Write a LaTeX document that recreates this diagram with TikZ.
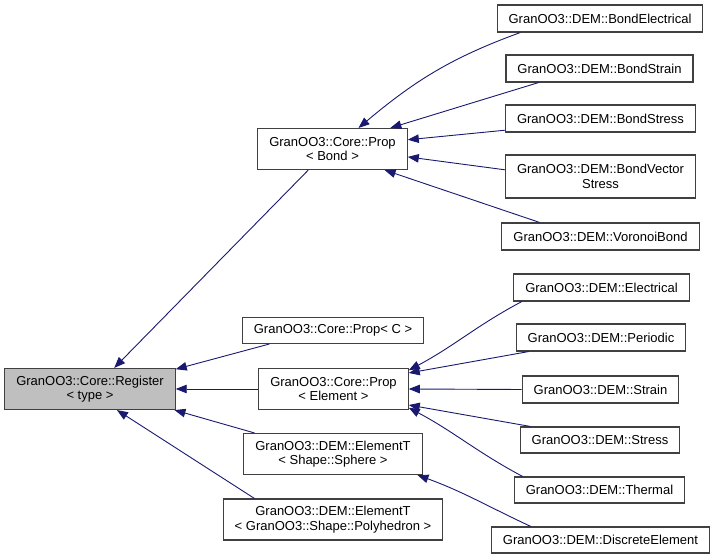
\documentclass[tikz,border=0pt]{standalone}
\usepackage{fontspec}
\setmainfont{Liberation Sans}
\usetikzlibrary{arrows.meta}
\definecolor{edgeblue}{HTML}{191970}
\definecolor{basegray}{HTML}{BFBFBF}
\definecolor{framegray}{HTML}{404040}
\begin{document}
\begin{tikzpicture}
        [x=1pt, y=1pt,
        cls/.style={draw=framegray, line width=1.1pt, fill=white, align=center,
            inner xsep=11.5pt, inner ysep=0pt, minimum height=27pt,
            font=\fontsize{13pt}{14.5pt}\selectfont},
        tall/.style={minimum height=41pt},
        inh/.style={draw=edgeblue, line width=0.9pt, -{Triangle[length=11pt,width=8.5pt]}}]
        \useasboundingbox (0,0) rectangle (716,560);
        % base class
        \node[cls,tall,fill=basegray] (reg) at (90,171) {GranOO3::Core::Register\\< type >};
        % middle column
        \node[cls,tall] (pbond) at (332.5,411) {GranOO3::Core::Prop\\< Bond >};
        \node[cls,minimum height=26pt] (pc) at (333,229.5) {GranOO3::Core::Prop< C >};
        \node[cls,tall] (pel) at (333.5,171) {GranOO3::Core::Prop\\< Element >};
        \node[cls,tall] (sph) at (333,106) {GranOO3::DEM::ElementT\\< Shape::Sphere >};
        \node[cls,tall] (poly) at (333,40.5) {GranOO3::DEM::ElementT\\< GranOO3::Shape::Polyhedron >};
        % right column
        \node[cls] (bel) at (600,541.5) {GranOO3::DEM::BondElectrical};
        \node[cls] (bstrain) at (599.5,491.5) {GranOO3::DEM::BondStrain};
        \node[cls] (bstress) at (600.5,441.5) {GranOO3::DEM::BondStress};
        \node[cls,minimum height=43pt] (bvec) at (600.5,383.5) {GranOO3::DEM::BondVector\\Stress};
        \node[cls] (vor) at (600.5,323.5) {GranOO3::DEM::VoronoiBond};
        \node[cls] (elec) at (601.5,272.5) {GranOO3::DEM::Electrical};
        \node[cls] (per) at (601,222.5) {GranOO3::DEM::Periodic};
        \node[cls] (strain) at (600.5,170.5) {GranOO3::DEM::Strain};
        \node[cls,minimum height=26pt] (stress) at (600,120) {GranOO3::DEM::Stress};
        \node[cls,minimum height=26pt] (therm) at (599.5,70) {GranOO3::DEM::Thermal};
        \node[cls,minimum height=26pt] (disc) at (600.5,20) {GranOO3::DEM::DiscreteElement};
        % inheritance to the register
        \draw[inh] (pbond.221) -- (reg.41);
        \draw[inh] (pc.192) -- (reg.13.8);
        \draw[inh] (pel.west) -- (reg.east);
        \draw[inh] (sph.165) -- (reg.-14.3);
        \draw[inh] (poly.165) -- (reg.-38.5);
        % bond properties
        \draw[inh] (bel.190.5) to[out=200,in=40] (pbond.39);
        \draw[inh] (bstrain.193) -- (pbond.20);
        \draw[inh] (bstress.187.5) -- (pbond.7);
        \draw[inh] (bvec.176) -- (pbond.-6);
        \draw[inh] (vor.167) -- (pbond.-22);
        % element properties
        \draw[inh] (elec.190) to[out=208,in=28] (pel.14);
        \draw[inh] (per.191) -- (pel.12);
        \draw[inh] (strain.west) -- (pel.east);
        \draw[inh] (stress.169) -- (pel.-12);
        \draw[inh] (therm.170.5) to[out=152,in=-28] (pel.-14);
        \draw[inh] (disc.169.5) to[out=155,in=-20] (sph.-14);
\end{tikzpicture}
\end{document}
